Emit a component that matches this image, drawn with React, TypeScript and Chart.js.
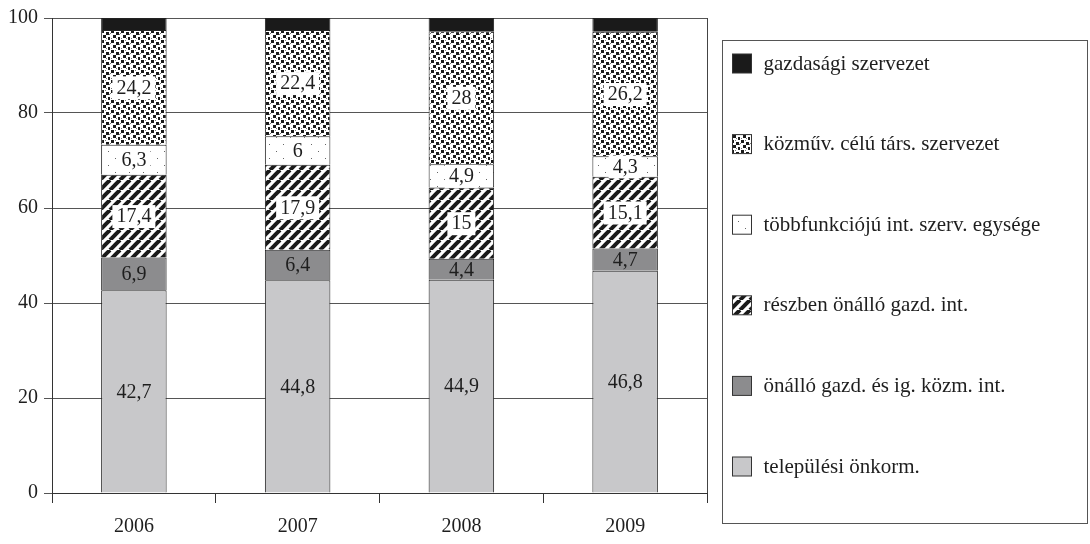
import React, { useEffect, useRef } from "react";
import { Chart, registerables } from "chart.js";

Chart.register(...registerables);

const years = ["2006", "2007", "2008", "2009"];
const seriesNames = [
  "települési önkorm.",
  "önálló gazd. és ig. közm. int.",
  "részben önálló gazd. int.",
  "többfunkciójú int. szerv. egysége",
  "közműv. célú társ. szervezet",
  "gazdasági szervezet",
];
const telepulesi = [42.7, 44.8, 44.9, 46.8];
const onallo = [6.9, 6.4, 4.4, 4.7];
const reszben = [17.4, 17.9, 15, 15.1];
const tobbfunkcios = [6.3, 6, 4.9, 4.3];
const kozmuv = [24.2, 22.4, 28, 26.2];
const gazdasagi = [2.5, 2.5, 2.8, 2.9];
const yTicks = [0, 20, 40, 60, 80, 100];

const FONT = "'Liberation Serif', 'Times New Roman', serif";

function makeTile(size: number, draw: (c: CanvasRenderingContext2D) => void) {
  const cv = document.createElement("canvas");
  cv.width = size;
  cv.height = size;
  const c = cv.getContext("2d")!;
  draw(c);
  return c.createPattern(cv, "repeat")!;
}

function patterns() {
  const dense = makeTile(10, (c) => {
    c.fillStyle = "#fff";
    c.fillRect(0, 0, 10, 10);
    c.fillStyle = "#1a1a1a";
    const pts = [
      [1, 0], [6, 2], [3, 5], [8, 7],
    ];
    pts.forEach(([x, y]) => c.fillRect(x, y, 3, 3));
    c.fillStyle = "#777";
    [[5, 0], [0, 3], [9, 4], [6, 8], [1, 8]].forEach(([x, y]) => c.fillRect(x, y, 1, 1));
  });
  const sparse = makeTile(14, (c) => {
    c.fillStyle = "#fff";
    c.fillRect(0, 0, 14, 14);
    c.fillStyle = "#666";
    c.fillRect(3, 4, 1, 1);
    c.fillRect(10, 11, 1, 1);
  });
  const stripes = makeTile(10, (c) => {
    c.fillStyle = "#fff";
    c.fillRect(0, 0, 10, 10);
    c.strokeStyle = "#1a1a1a";
    c.lineWidth = 4;
    for (let k = -1; k <= 1; k++) {
      c.beginPath();
      c.moveTo(k * 10, 10);
      c.lineTo(k * 10 + 10, 0);
      c.stroke();
    }
  });
  return { dense, sparse, stripes };
}

const labelPlugin = {
  id: "segLabels",
  afterDatasetsDraw(chart: any) {
    const ctx = chart.ctx;
    ctx.save();
    ctx.font = `20px ${FONT}`;
    ctx.textAlign = "center";
    ctx.textBaseline = "middle";
    chart.data.datasets.forEach((ds: any, di: number) => {
      if (di === 5) return;
      const meta = chart.getDatasetMeta(di);
      meta.data.forEach((bar: any, i: number) => {
        const v = ds.data[i];
        const txt = String(v).replace(".", ",");
        const y = (bar.y + bar.base) / 2;
        const w = ctx.measureText(txt).width;
        if (di >= 2) {
          ctx.fillStyle = "#fff";
          ctx.fillRect(bar.x - w / 2 - 4, y - 11, w + 8, 23);
        }
        ctx.fillStyle = "#1e1e1e";
        ctx.fillText(txt, bar.x, y + 1);
      });
    });
    ctx.restore();
  },
};

const framePlugin = {
  id: "frameLegend",
  afterDraw(chart: any) {
    const ctx = chart.ctx;
    const a = chart.chartArea;
    ctx.save();
    ctx.strokeStyle = "#444";
    ctx.lineWidth = 1;
    ctx.beginPath();
    ctx.moveTo(Math.round(a.right) + 0.5, a.top);
    ctx.lineTo(Math.round(a.right) + 0.5, a.bottom);
    ctx.stroke();
    const lx = a.right + 15.5;
    const ly = 40.5;
    const lw = 365;
    const lh = 483;
    ctx.strokeStyle = "#555";
    ctx.strokeRect(lx, ly, lw, lh);
    const n = chart.data.datasets.length;
    const step = 80.6;
    ctx.font = `21px ${FONT}`;
    ctx.textBaseline = "middle";
    ctx.textAlign = "left";
    for (let k = 0; k < n; k++) {
      const di = n - 1 - k;
      const ds = chart.data.datasets[di];
      const cy = 63 + k * step;
      ctx.fillStyle = ds.backgroundColor;
      ctx.fillRect(lx + 10, cy - 9, 19, 19);
      ctx.strokeStyle = "#333";
      ctx.strokeRect(lx + 10, cy - 9, 19, 19);
      ctx.fillStyle = "#1e1e1e";
      ctx.fillText(ds.label, lx + 41, cy + 1);
    }
    ctx.restore();
  },
};

export default function App() {
  const ref = useRef<HTMLCanvasElement>(null);
  useEffect(() => {
    const p = patterns();
    const fills = ["#c8c8ca", "#8c8c8e", p.stripes, p.sparse, p.dense, "#1a1a1a"];
    const values = [telepulesi, onallo, reszben, tobbfunkcios, kozmuv, gazdasagi];
    const chart = new Chart(ref.current!, {
      type: "bar",
      data: {
        labels: years,
        datasets: values.map((d, i) => ({
          label: seriesNames[i],
          data: d,
          backgroundColor: fills[i] as any,
          borderColor: "#222",
          borderWidth: 1,
          categoryPercentage: 1,
          barPercentage: 0.4,
        })),
      },
      options: {
        animation: false,
        responsive: true,
        maintainAspectRatio: false,
        layout: { padding: { top: 15, right: 383, left: 0, bottom: 0 } },
        plugins: { legend: { display: false }, tooltip: { enabled: false } },
        scales: {
          x: {
            stacked: true,
            afterFit: (s: any) => { s.height = 51; },
            grid: { drawOnChartArea: false, tickLength: 10, color: "#333", offset: true },
            border: { color: "#333" },
            ticks: { font: { family: FONT, size: 20 }, color: "#1e1e1e", padding: 12 },
          },
          y: {
            stacked: true,
            min: 0,
            max: 100,
            afterFit: (s: any) => { s.width = 52; },
            afterBuildTicks: (s: any) => { s.ticks = yTicks.map((v) => ({ value: v })); },
            grid: { color: "#555", tickLength: 8 },
            border: { color: "#333" },
            ticks: { font: { family: FONT, size: 20 }, color: "#1e1e1e", padding: 6 },
          },
        },
      },
      plugins: [labelPlugin, framePlugin],
    });
    return () => chart.destroy();
  }, []);
  return (
    <div style={{ position: "fixed", left: 0, top: 0, width: 1090, height: 544, background: "#fff" }}>
      <canvas ref={ref} />
    </div>
  );
}
